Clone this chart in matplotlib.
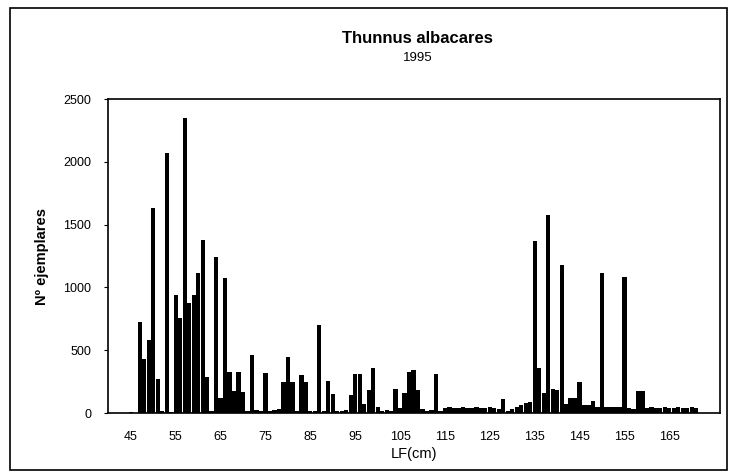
import matplotlib.pyplot as plt
from matplotlib.patches import Rectangle

plt.rcParams['font.family'] = ['Liberation Sans', 'DejaVu Sans']

# length classes (cm) and number of fish per class
lf = list(range(40, 177))
counts = [
    0, 0, 0, 0, 0, 10, 0, 724, 430, 580,            # 40-49
    1630, 270, 15, 2070, 10, 940, 756, 2350, 876, 940,  # 50-59
    1115, 1378, 287, 20, 1242, 120, 1075, 325, 175, 325,  # 60-69
    170, 15, 462, 25, 20, 318, 20, 25, 30, 250,      # 70-79
    448, 250, 20, 302, 250, 20, 15, 700, 20, 255,    # 80-89
    150, 20, 15, 25, 143, 310, 310, 72, 183, 360,    # 90-99
    50, 20, 25, 15, 190, 40, 160, 330, 345, 180,     # 100-109
    30, 20, 25, 310, 20, 40, 45, 40, 40, 45,         # 110-119
    40, 40, 45, 40, 40, 45, 40, 30, 110, 20,         # 120-129
    35, 50, 65, 80, 85, 1370, 358, 160, 1580, 190,   # 130-139
    180, 1180, 70, 118, 118, 250, 65, 65, 98, 50,    # 140-149
    1115, 45, 50, 45, 50, 1083, 40, 30, 175, 175,    # 150-159
    40, 45, 40, 40, 45, 40, 40, 45, 40, 40,          # 160-169
    45, 40, 0, 0, 0, 0, 0,                           # 170-176
]
xticks = [45, 55, 65, 75, 85, 95, 105, 115, 125, 135, 145, 155, 165]

fig = plt.figure(figsize=(7.37, 4.75), dpi=100)
ax = fig.add_axes([0.1465, 0.1305, 0.8305, 0.661])

ax.bar(lf, counts, width=0.95, color='black', edgecolor='none')

ax.set_xlim(39.9, 176.3)
ax.set_ylim(0, 2500)
ax.set_yticks(range(0, 2501, 500))
ax.set_xticks(xticks)
ax.tick_params(axis='x', length=0, labelsize=9, pad=13)
ax.tick_params(axis='y', length=3, labelsize=9, pad=9)
for s in ax.spines.values():
    s.set_linewidth(1.2)
    s.set_color('black')

ax.set_xlabel('LF(cm)', fontsize=10.5, labelpad=3)
ax.set_ylabel('Nº ejemplares', fontsize=10.5, fontweight='bold', labelpad=10)

fig.text(0.567, 0.918, 'Thunnus albacares', ha='center', va='center',
         fontsize=12, fontweight='bold')
fig.text(0.567, 0.878, '1995', ha='center', va='center', fontsize=9.5)

# outer frame round the whole chart
fig.patches.append(Rectangle((10 / 737, 5 / 475), 717 / 737, 462 / 475,
                             transform=fig.transFigure, fill=False,
                             edgecolor='black', linewidth=1.2))

fig.savefig('out.png', dpi=100)
